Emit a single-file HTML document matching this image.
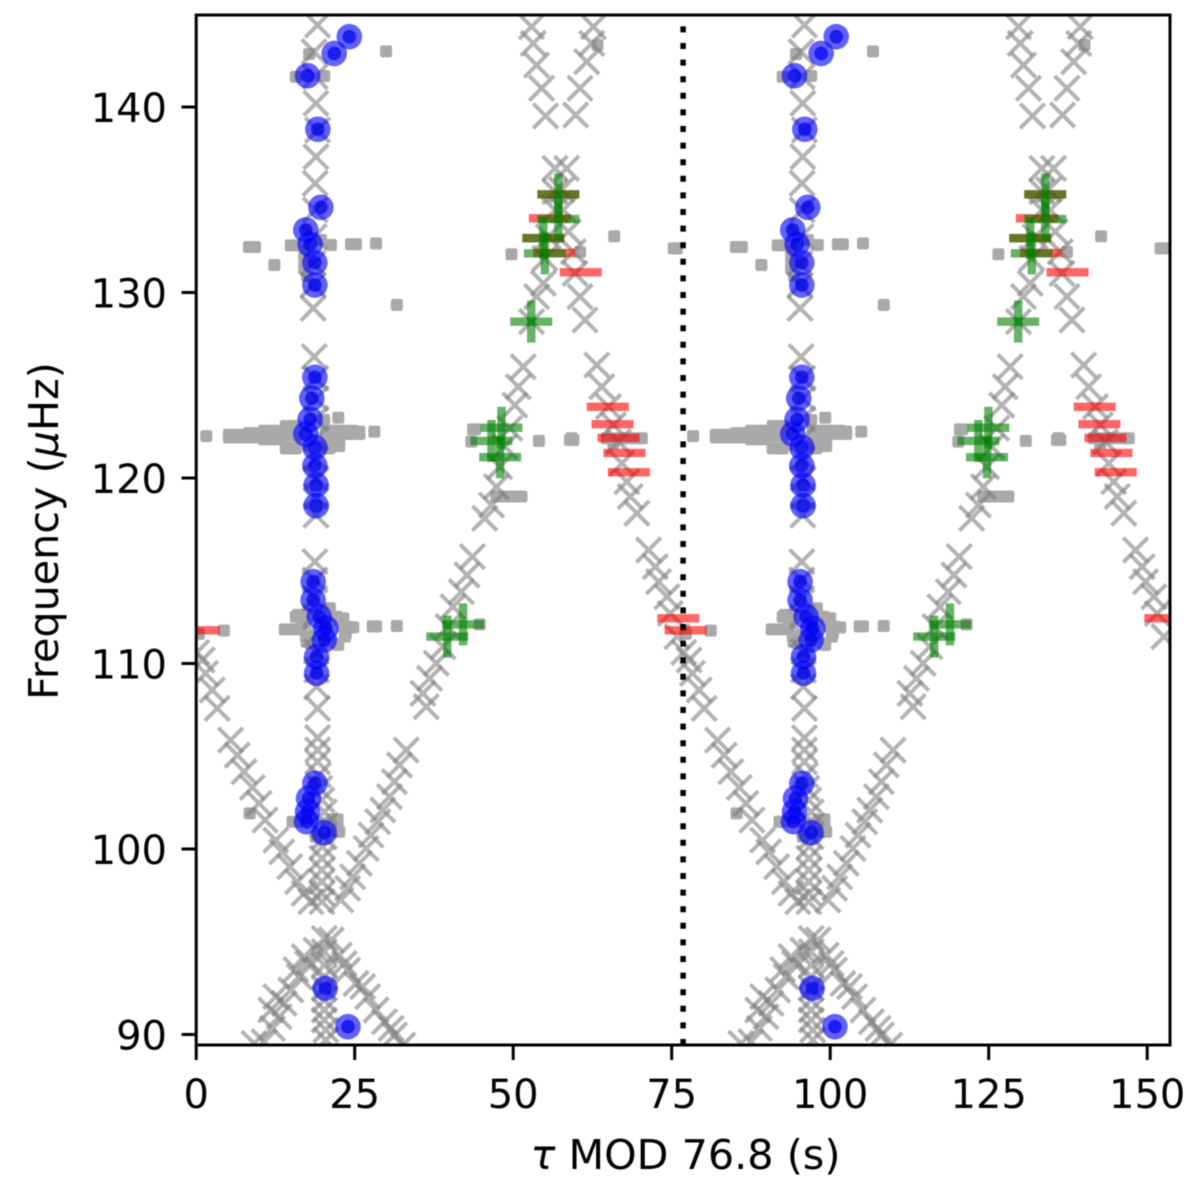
<!DOCTYPE html>
<html>
<head>
<meta charset="utf-8">
<title>Period echelle diagram</title>
<style>
html,body{margin:0;padding:0;background:#fff;}
#chart{display:block;filter:blur(0.4px);}
text{font-family:"DejaVu Sans","Liberation Sans",sans-serif;fill:#000;}
</style>
</head>
<body>
<svg id="chart" xmlns="http://www.w3.org/2000/svg" width="1200" height="1195" viewBox="0 0 1200 1195">
  <defs><clipPath id="plot-clip"><rect x="196.2" y="15" width="973.8" height="1030"/></clipPath></defs>
  <g id="marks" clip-path="url(#plot-clip)"></g>
  <g id="axes"></g>
  <text x="685.5" y="1169" font-size="41.3" text-anchor="middle"><tspan font-style="italic">τ</tspan> MOD 76.8 (s)</text>
  <text transform="translate(58,531) rotate(-90)" font-size="41.3" text-anchor="middle">Frequency (<tspan font-style="italic">μ</tspan>Hz)</text>
</svg>
<script>
const period = 76.8;
const xTicks = [0, 25, 50, 75, 100, 125, 150];
const yTicks = [90, 100, 110, 120, 130, 140];

// [tau (s), frequency (uHz)]
const modelCentral = [[19.14,144.42],[18.6,142.98],[18.77,141.64],[18.88,140.2],[19.14,138.76],[18.88,137.32],[18.77,135.89],[18.77,134.45],[18.61,133.01],[18.45,131.57],[18.45,130.41],[18.45,129.15],[18.61,126.54],[18.88,125.37],[18.88,124.29],[18.88,123.2],[18.88,122.14],[18.88,121.06],[18.88,119.98],[18.88,119],[18.88,118],[18.72,115.49],[18.72,114.5],[18.72,113.51],[18.8,112.52],[18.9,111.54],[18.98,110.64],[18.98,109.65],[18.98,108.75],[19.14,107.58],[19.14,106],[19.14,105.34],[19.14,104.7],[19.3,103.99],[19.5,103.27],[19.83,102.64],[20.2,102],[20.35,101.29],[20.2,100.66],[19.9,100.12],[19.83,99.5],[19.83,98.87],[19.83,98.24],[19.83,97.61],[19.83,97.16],[20.2,95.18],[20.2,94.46],[20.2,93.74],[20.2,93.12],[20.2,92.49],[20.2,91.86],[20.2,91.32],[20.2,90.78],[20.45,90.24],[20.45,89.7]];
const modelDescendingLow = [[0.1,110.6],[0.95,110.19],[1.47,109.47],[2.53,108.57],[3.32,107.58],[5.43,105.87],[6.48,105.06],[7.54,104.17],[8.86,103.32],[9.91,102.46],[10.86,101.56],[12.55,100.48],[13.5,99.85],[14.76,99.05],[15.98,98.24],[17.03,97.61],[18.09,97.16]];
const modelAscending = [[22.83,97.25],[23.89,97.88],[24.68,98.5],[25.73,99.23],[26.79,100.03],[27.58,100.75],[28.64,101.47],[29.43,102.1],[30.48,102.82],[31.27,103.63],[32.06,104.53],[33.12,105.33],[36.28,107.67],[35.76,108.39],[36.81,109.2],[37.86,110.01],[38.92,110.91],[39.71,111.99],[40.5,113.06],[41.82,113.87],[42.72,114.77],[43.56,115.76],[45.51,117.83],[46.57,118.54],[47.36,119.53],[47.89,120.61],[48.68,121.69],[49.47,122.68],[50.26,123.93],[50.79,124.92],[51.58,126],[52.9,128.43],[53.69,129.78],[54.74,130.5],[55.01,131.84],[55.53,133.01],[56.59,134.45],[56.59,135.44],[56.59,136.69],[55.11,139.52],[54.48,141.01],[53.69,142.26],[53.16,143.43],[52.9,144.33]];
const modelUpperRight = [[59.86,139.57],[60.54,141.01],[61.6,142.44],[62.39,143.43],[62.65,144.33],[58.43,136.69],[57.64,135.53],[57.9,134.45],[58.7,133.28],[59.49,132.2],[59.75,131.03],[60.54,129.78],[61.33,128.52]];
const modelDescendingHigh = [[63.18,126.09],[63.97,124.92],[65.03,123.85],[65.82,122.86],[66.61,121.96],[67.14,120.79],[67.93,119.8],[68.46,119],[69.51,118.1],[71.36,116.12],[72.41,115.22],[72.94,114.41],[74.26,113.6],[74.79,112.7],[75.84,111.45]];
const modelPeak = [[21.3,95.1],[18.88,94.55],[17.56,93.83],[16.24,93.12],[14.92,92.4],[13.87,91.68],[13.07,90.96],[12.02,90.33],[10.7,89.61],[17.03,94.2],[15.71,93.5],[12.55,92.04],[11.76,91.32],[9.12,89.52],[22.57,94.28],[23.89,93.47],[25.2,92.75],[27.05,92.04],[28.37,91.32],[29.69,90.69],[31.27,89.97],[32.59,89.43],[23.36,93.83],[26.26,92.58],[30.74,90.33]];

const powerSquares = [[17.82,142.86],[29.95,143],[15.71,141.63],[20.19,141.67],[63.29,143.34],[8.32,132.45],[9.27,132.45],[14.92,132.54],[15.71,132.54],[21.25,132.56],[24.41,132.6],[25.2,132.6],[28.37,132.65],[12.34,131.48],[17.03,132.3],[17.03,131.84],[17.03,131.3],[17.5,130.9],[19.67,132.83],[31.65,129.33],[49.73,132.06],[60.54,132.18],[65.93,133.03],[75.32,132.38],[75.8,132.38],
[1.58,122.26],
[5.16,122.33],[6.22,122.33],[7.27,122.33],[5.16,122.18],[6.22,122.18],[7.27,122.18],
[8.33,122.42],[9.38,122.42],[8.33,122.18],[9.38,122.18],
[10.7,122.55],[11.76,122.55],[12.81,122.55],[10.7,122.08],[11.76,122.08],[12.81,122.08],
[14.13,122.8],[14.92,122.8],[15.71,122.8],[14.13,122.25],[15.71,122.25],[14.13,121.6],[14.92,121.6],[15.71,121.6],
[20.46,122.55],[21.52,122.55],[22.57,122.55],[23.62,122.55],[24.68,122.55],[25.73,122.5],[20.46,122.37],[21.52,122.37],[22.57,122.37],[23.62,122.37],[24.68,122.37],[25.73,122.37],[20.46,121.72],[21.5,121.72],[22.57,121.72],[21.5,122.05],[22.57,122.05],
[28.1,122.5],[22.41,123.25],[20.99,121.6],[20.2,123.13],
[43.67,122.62],[43.4,121.96],[44,122.62],[54.06,122],[59.49,122.05],[58.96,122.05],[59.2,122.15],
[70.3,122.14],[69.5,122.14],[68.4,122.14],[67.4,122.14],[66.5,122.14],[65.8,121.87],[64.76,122.14],
[47.36,119],[48.15,119],[49,119],[49.8,119],[50.52,119],[51.3,119],
[13.97,111.84],[14.76,111.84],[15.71,111.84],[16.08,112.62],[17.14,112.62],[15.71,112.52],[16.77,112.52],[16.61,111.98],[17.3,111.45],[17.41,111.18],[17.93,111.18],[18.09,111.09],[21.09,112.98],[22.15,112.52],[23.2,112.44],[22.57,112.34],[23.99,111.98],[24.78,111.95],[23.1,111.99],[23.47,111.45],[22.41,111],[22.04,111.09],[21.25,112.52],[23.62,111.63],[20.3,112.07],
[27.84,112],[28.37,112],[31.64,112.02],[44.72,112.11],[4.37,111.77],[0.42,111.6],
[8.43,101.92],[15.2,101.47],[15.98,101.47],[20.5,101.4],[21.5,101.6],[22.3,101.6],[22.57,100.93],[21.5,100.95],[18.88,100.66],[22.3,101.2]];

const observedModes = [[24.15,143.79],[21.77,142.89],[17.56,141.69],[19.19,138.8],[19.67,134.59],[17.29,133.37],[17.97,132.6],[18.72,131.61],[18.72,130.4],[18.72,125.43],[18.24,124.3],[17.97,123.16],[17.29,122.37],[18.72,121.65],[18.72,120.66],[18.92,119.62],[18.92,118.51],[18.45,114.41],[18.45,113.42],[19.4,112.52],[20.46,111.9],[20.19,111.27],[18.99,110.37],[18.99,109.47],[18.72,103.54],[17.72,102.73],[17.56,102.01],[17.41,101.47],[20.19,100.88],[20.35,92.49],[23.94,90.42]];
const greenModes = [[57.12,135.29],[57.12,133.96],[54.75,132.92],[55,132.11],[52.85,128.43],[48.15,122.71],[46.57,122],[47.94,121.12],[42.09,112.11],[39.6,111.45]];
const redModes = [[57.12,135.29],[55.79,134],[54.75,132.94],[56.43,132.13],[60.65,131.09],[64.92,123.84],[65.66,122.9],[66.61,122.16],[67.56,121.35],[68.24,120.31],[76.05,112.44],[0.4,111.79]];

const modelTracks = [modelCentral, modelDescendingLow, modelAscending, modelUpperRight, modelDescendingHigh, modelPeak];

const NS = 'http://www.w3.org/2000/svg';
const sx = t => 196.2 + t * 6.34;
const sy = f => 107 + (140 - f) * 18.55;
const marks = document.getElementById('marks');
const axes = document.getElementById('axes');

function make(parent, tag, attrs) {
  const el = document.createElementNS(NS, tag);
  for (const k in attrs) el.setAttribute(k, attrs[k]);
  parent.appendChild(el);
  return el;
}

// both periods are plotted
const shifts = [0, period];

shifts.forEach(s => {
  powerSquares.forEach(p => {
    const el = make(marks, 'rect', {x: sx(p[0] + s) - 6, y: sy(p[1]) - 6, width: 12, height: 12, rx: 2.2, fill: '#a9a9a9'});
    
    
  });
});

shifts.forEach(s => {
  modelTracks.forEach(track => {
    track.forEach(p => {
      const x = sx(p[0] + s), y = sy(p[1]), r = 12.3;
      const el = make(marks, 'path', {d: `M${x-r} ${y-r}L${x+r} ${y+r}M${x-r} ${y+r}L${x+r} ${y-r}`, stroke: '#808080', 'stroke-width': 4, fill: 'none', opacity: 0.6});
      
      
    });
  });
});

shifts.forEach(s => {
  observedModes.forEach(p => {
    const x = sx(p[0] + s), y = sy(p[1]);
    const outer = make(marks, 'circle', {cx: x, cy: y, r: 12.8, fill: '#0000ff', opacity: 0.62});
    
    
    const inner = make(marks, 'circle', {cx: x, cy: y, r: 6.8, fill: '#0000e6', opacity: 0.7});
    
    
  });
});

shifts.forEach(s => {
  redModes.forEach(p => {
    const x = sx(p[0] + s), y = sy(p[1]), r = 21;
    const el = make(marks, 'rect', {x: x - r, y: y - 4.2, width: 2 * r, height: 8.4, fill: '#ff0000', opacity: 0.6});
    
    
  });
});

shifts.forEach(s => {
  greenModes.forEach(p => {
    const x = sx(p[0] + s), y = sy(p[1]), r = 21;
    const h = make(marks, 'rect', {x: x - r, y: y - 4.2, width: 2 * r, height: 8.4, fill: '#008000', opacity: 0.6});
    
    
    const v = make(marks, 'rect', {x: x - 4.2, y: y - r, width: 8.4, height: 2 * r, fill: '#008000', opacity: 0.6});
    
    
  });
});

const divider = make(marks, 'line', {x1: sx(period), x2: sx(period), y1: 1045, y2: 15, stroke: '#000', 'stroke-width': 5.5, 'stroke-dasharray': '6 10.6'});



const frame = make(axes, 'rect', {x: 196.2, y: 15, width: 973.8, height: 1030, fill: 'none', stroke: '#000', 'stroke-width': 3});



xTicks.forEach(v => {
  const x = sx(v);
  const t = make(axes, 'line', {x1: x, x2: x, y1: 1045, y2: 1060, stroke: '#000', 'stroke-width': 3});
  
  
  const l = make(axes, 'text', {x: x, y: 1108, 'font-size': 40, 'text-anchor': 'middle'});
  l.textContent = v;
  
  
});

yTicks.forEach(v => {
  const y = sy(v);
  const t = make(axes, 'line', {x1: 181.5, x2: 196.2, y1: y, y2: y, stroke: '#000', 'stroke-width': 3});
  
  
  const l = make(axes, 'text', {x: 167, y: y + 15, 'font-size': 40, 'text-anchor': 'end'});
  l.textContent = v;
  
  
});
</script>
</body>
</html>
